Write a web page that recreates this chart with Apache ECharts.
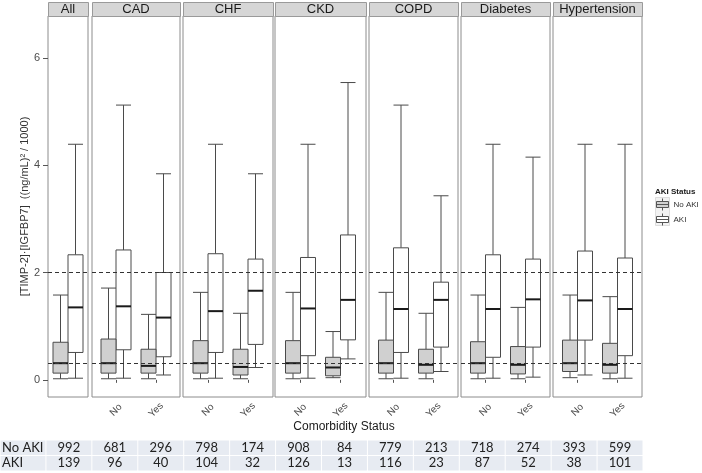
<!DOCTYPE html>
<html>
<head>
<meta charset="utf-8">
<script src="https://cdn.jsdelivr.net/npm/echarts@6/dist/echarts.min.js"></script>
<style>
html,body{margin:0;padding:0;background:#fff;}
#chart{width:702px;height:473px;}
</style>
</head>
<body>
<div id="chart"></div>
<script>
// ---------------- DATA ----------------
const panels = ['All', 'CAD', 'CHF', 'CKD', 'COPD', 'Diabetes', 'Hypertension'];
const comorbidity = ['No', 'Yes'];
const yTicks = [0, 2, 4, 6];
const refLines = [2, 0.3];
const seriesNames = ['No AKI', 'AKI'];
// [lower whisker, Q1, median, Q3, upper whisker] per column: All, CAD No, CAD Yes, CHF No, CHF Yes, ...
const noAkiStats = [
  [0.02, 0.125, 0.31, 0.70, 1.58],
  [0.02, 0.125, 0.31, 0.76, 1.71],
  [0.02, 0.125, 0.26, 0.57, 1.22],
  [0.02, 0.125, 0.31, 0.73, 1.63],
  [0.02, 0.09, 0.24, 0.57, 1.24],
  [0.02, 0.125, 0.31, 0.73, 1.63],
  [0.04, 0.075, 0.23, 0.42, 0.90],
  [0.02, 0.125, 0.31, 0.74, 1.63],
  [0.02, 0.125, 0.28, 0.57, 1.24],
  [0.02, 0.125, 0.31, 0.71, 1.58],
  [0.02, 0.11, 0.28, 0.62, 1.35],
  [0.04, 0.155, 0.31, 0.74, 1.58],
  [0.02, 0.125, 0.28, 0.68, 1.55]
];
const akiStats = [
  [0.03, 0.51, 1.35, 2.33, 4.39],
  [0.03, 0.56, 1.37, 2.42, 5.12],
  [0.09, 0.43, 1.16, 2.00, 3.84],
  [0.03, 0.51, 1.28, 2.35, 4.39],
  [0.23, 0.66, 1.66, 2.25, 3.84],
  [0.03, 0.45, 1.33, 2.28, 4.39],
  [0.39, 0.745, 1.49, 2.70, 5.54],
  [0.03, 0.51, 1.32, 2.46, 5.12],
  [0.155, 0.61, 1.49, 1.82, 3.43],
  [0.03, 0.42, 1.32, 2.33, 4.39],
  [0.05, 0.61, 1.50, 2.25, 4.15],
  [0.09, 0.74, 1.48, 2.40, 4.39],
  [0.03, 0.45, 1.32, 2.27, 4.39]
];
const noAkiN = [992, 681, 296, 798, 174, 908, 84, 779, 213, 718, 274, 393, 599];
const akiN = [139, 96, 40, 104, 32, 126, 13, 116, 23, 87, 52, 38, 101];

// ---------------- LAYOUT / STYLE ----------------
const panelLeft = [48, 92, 183, 275, 369, 461, 553];
const panelWidth = [40, 88, 90, 91, 89, 89, 89];
const PANEL_TOP = 16, PANEL_H = 381;
const PX_PER_UNIT = 40;
const BOX_W = 0.375;
const Y_MIN = -0.32, Y_MAX = 6.78;
const LINE_C = '#4a4a4a';
const FILLS = ['#d0d0d0', '#ffffff'];

function makeRender(side, fill) {
  return function (params, api) {
    const x = api.value(0);
    const x0 = side < 0 ? x - BOX_W : x;
    const x1 = x0 + BOX_W;
    const xm = (x0 + x1) / 2;
    const lo = api.value(1), q1 = api.value(2), md = api.value(3), q3 = api.value(4), hi = api.value(5);
    const P = (a, b) => api.coord([a, b]);
    const ln = (p, q, w, c) => ({
      type: 'line',
      shape: { x1: p[0], y1: p[1], x2: q[0], y2: q[1] },
      style: { stroke: c || LINE_C, lineWidth: w || 1 }
    });
    const tl = P(x0, q3), br = P(x1, q1);
    return {
      type: 'group',
      children: [
        ln(P(xm, lo), P(xm, q1)),
        ln(P(xm, q3), P(xm, hi)),
        ln(P(x0, lo), P(x1, lo)),
        ln(P(x0, hi), P(x1, hi)),
        {
          type: 'rect',
          shape: { x: tl[0], y: tl[1], width: br[0] - tl[0], height: br[1] - tl[1] },
          style: { fill: fill, stroke: LINE_C, lineWidth: 1 }
        },
        ln(P(x0, md), P(x1, md), 2, '#1a1a1a')
      ]
    };
  };
}

const grids = [], xAxes = [], yAxes = [], series = [], graphics = [];
let col = 0;
panels.forEach(function (name, i) {
  const k = i === 0 ? 1 : 2;
  const c = (k + 1) / 2;
  const half = panelWidth[i] / PX_PER_UNIT / 2;
  grids.push({
    left: panelLeft[i], top: PANEL_TOP, width: panelWidth[i], height: PANEL_H,
    show: true, borderColor: '#8c8c8c', borderWidth: 1, backgroundColor: '#fff'
  });
  const catVals = i === 0 ? [] : [1, 2];
  xAxes.push({
    gridIndex: i, type: 'value', min: c - half, max: c + half,
    axisLine: { show: false }, splitLine: { show: false },
    axisTick: { show: i > 0, customValues: catVals, length: 3, lineStyle: { color: '#555' } },
    axisLabel: {
      show: i > 0, customValues: catVals,
      formatter: function (v) { return comorbidity[Math.round(v) - 1] || ''; },
      rotate: 45, align: 'center', verticalAlign: 'middle', margin: 13,
      fontSize: 10, color: '#4d4d4d', fontFamily: 'Liberation Sans'
    }
  });
  yAxes.push({
    gridIndex: i, type: 'value', min: Y_MIN, max: Y_MAX,
    axisLine: { show: false }, splitLine: { show: false },
    axisTick: { show: i === 0, customValues: yTicks, length: 5, lineStyle: { color: '#555' } },
    axisLabel: { show: i === 0, customValues: yTicks, color: '#4d4d4d', fontSize: 11, margin: 8, fontFamily: 'Liberation Sans' },
    name: i === 0 ? '[TIMP-2]·[IGFBP7]  ((ng/mL)² / 1000)' : '',
    nameLocation: 'middle', nameGap: 17,
    nameTextStyle: { fontSize: 11, color: '#333', fontFamily: 'Liberation Sans' }
  });
  const dNo = [], dAki = [];
  for (let j = 0; j < k; j++) {
    dNo.push([j + 1].concat(noAkiStats[col]));
    dAki.push([j + 1].concat(akiStats[col]));
    col++;
  }
  series.push({
    type: 'custom', name: seriesNames[0], xAxisIndex: i, yAxisIndex: i,
    renderItem: makeRender(-1, FILLS[0]), data: dNo,
    encode: { x: 0, y: [1, 2, 3, 4, 5] },
    itemStyle: { color: FILLS[0], borderColor: LINE_C },
    markLine: {
      silent: true, symbol: ['none', 'none'], label: { show: false },
      lineStyle: { type: [4, 3], color: '#333', width: 1 },
      data: refLines.map(function (v) { return { yAxis: v }; })
    },
    z: 3
  });
  series.push({
    type: 'custom', name: seriesNames[1], xAxisIndex: i, yAxisIndex: i,
    renderItem: makeRender(1, FILLS[1]), data: dAki,
    encode: { x: 0, y: [1, 2, 3, 4, 5] },
    itemStyle: { color: FILLS[1], borderColor: LINE_C },
    z: 2
  });
  // strip header
  graphics.push({
    type: 'rect', left: panelLeft[i], top: 2,
    shape: { width: panelWidth[i], height: 14 },
    style: { fill: '#d6d6d6', stroke: '#9a9a9a', lineWidth: 1 }
  });
  graphics.push({
    type: 'text', x: panelLeft[i] + panelWidth[i] / 2, y: 9.5,
    style: { text: name, fontSize: 13, fontFamily: 'Liberation Sans', fill: '#1a1a1a', align: 'center', verticalAlign: 'middle' }
  });
});

// ---------------- TABLE ----------------
const tableRows = ['No AKI', 'AKI'];
const tableCounts = [noAkiN, akiN];
const tableCols = [''].concat(noAkiN.map(function (_, j) { return 'c' + j; }));
const tableData = [], tableText = [];
tableRows.forEach(function (rn, r) {
  tableCols.forEach(function (_, cIdx) {
    tableData.push([cIdx, r]);
    tableText.push(cIdx === 0 ? rn : String(tableCounts[r][cIdx - 1]));
  });
});
const tIdx = panels.length;
grids.push({ left: 0, top: 440, width: 643, height: 31 });
xAxes.push({ gridIndex: tIdx, type: 'category', data: tableCols, show: false });
yAxes.push({ gridIndex: tIdx, type: 'category', data: tableRows, inverse: true, show: false });
series.push({
  type: 'custom', name: 'table', xAxisIndex: tIdx, yAxisIndex: tIdx,
  data: tableData, encode: { x: 0, y: 1 },
  renderItem: function (params, api) {
    const p = api.coord([api.value(0), api.value(1)]);
    const s = api.size([1, 1]);
    const first = api.value(0) === 0;
    return {
      type: 'group',
      children: [
        {
          type: 'rect',
          shape: { x: p[0] - s[0] / 2 + 0.5, y: p[1] - s[1] / 2 + 0.5, width: s[0] - 1, height: s[1] - 1 },
          style: { fill: '#e7ebf2' }
        },
        {
          type: 'text',
          x: first ? p[0] - s[0] / 2 + 2 : p[0], y: p[1],
          style: {
            text: tableText[params.dataIndex], fontSize: 13, fontFamily: 'Lato',
            fill: '#222', align: first ? 'left' : 'center', verticalAlign: 'middle'
          }
        }
      ]
    };
  }
});

// axis title & legend title
graphics.push({
  type: 'text', x: 344, y: 427,
  style: { text: 'Comorbidity Status', fontSize: 12, fontFamily: 'Liberation Sans', fill: '#1a1a1a', align: 'center', verticalAlign: 'middle' }
});
graphics.push({
  type: 'text', x: 655, y: 192,
  style: { text: 'AKI Status', fontSize: 8, fontWeight: 'bold', fontFamily: 'Liberation Sans', fill: '#1a1a1a', align: 'left', verticalAlign: 'middle' }
});
// legend key backgrounds
graphics.push({ type: 'rect', left: 655, top: 197, shape: { width: 14, height: 28 }, style: { fill: '#f2f2f2', stroke: '#dddddd', lineWidth: 1 }, z: -1 });

const boxIcon = 'path://M0,3H12V9H0Z M0,6H12 M6,0V3 M6,9V12';

const chart = echarts.init(document.getElementById('chart'), null, { renderer: 'canvas' });
chart.setOption({
  animation: false,
  backgroundColor: '#ffffff',
  textStyle: { fontFamily: 'Liberation Sans' },
  grid: grids,
  xAxis: xAxes,
  yAxis: yAxes,
  legend: {
    orient: 'vertical', left: 656, top: 198, padding: 0,
    itemWidth: 12, itemHeight: 12, itemGap: 2,
    textStyle: { fontSize: 8, color: '#333', fontFamily: 'Liberation Sans' },
    selectedMode: false,
    data: [
      { name: seriesNames[0], icon: boxIcon, itemStyle: { color: FILLS[0], borderColor: '#555', borderWidth: 1 } },
      { name: seriesNames[1], icon: boxIcon, itemStyle: { color: FILLS[1], borderColor: '#555', borderWidth: 1 } }
    ]
  },
  graphic: graphics,
  series: series
});
</script>
</body>
</html>
